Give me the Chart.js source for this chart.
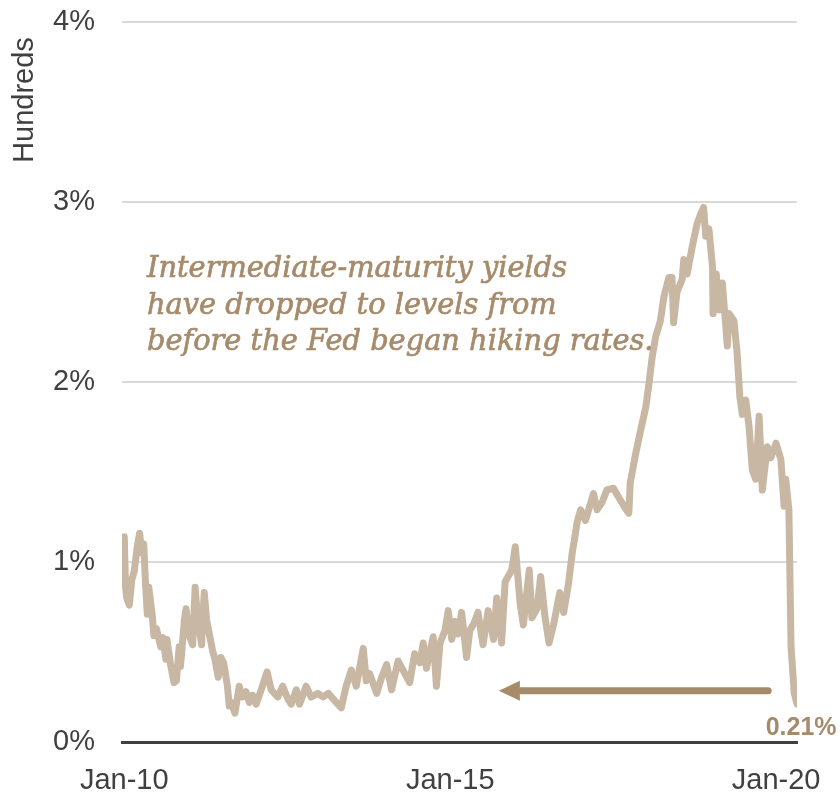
<!DOCTYPE html>
<html>
<head>
<meta charset="utf-8">
<script src="https://cdn.jsdelivr.net/npm/chart.js@4/dist/chart.umd.min.js"></script>
<style>
  body { margin: 0; background: #fff; }
  .frame { width: 840px; height: 798px; overflow: hidden; }
  .box { position: relative; width: 840px; height: 820px; }
</style>
</head>
<body>
<div class="frame"><div class="box"><canvas id="yieldChart"></canvas></div></div>
<script>
// 2-year yield (percent)
const dates = [
  '2010-01-01','2010-01-08','2010-01-15','2010-01-29','2010-02-12','2010-02-26','2010-03-14','2010-03-28',
  '2010-04-08','2010-04-20','2010-05-01','2010-05-10','2010-05-18','2010-06-07','2010-06-16','2010-06-30',
  '2010-07-24','2010-08-05','2010-08-22','2010-08-28','2010-09-19','2010-10-07','2010-10-20','2010-11-05',
  '2010-11-12','2010-12-04','2010-12-13','2010-12-28','2011-01-19','2011-02-02','2011-02-12','2011-03-10',
  '2011-03-25','2011-04-07','2011-05-10','2011-05-24','2011-06-11','2011-06-26','2011-07-12','2011-08-02',
  '2011-08-12','2011-08-25','2011-09-13','2011-10-07','2011-10-26','2011-11-14','2011-12-03','2011-12-21',
  '2012-01-10','2012-02-07','2012-03-11','2012-04-03','2012-05-10','2012-06-07','2012-07-05','2012-07-24',
  '2012-08-22','2012-09-09','2012-10-16','2012-11-13','2012-12-21','2013-01-19','2013-02-17','2013-03-25',
  '2013-05-01','2013-05-28','2013-06-26','2013-07-24','2013-09-01','2013-09-18','2013-10-07','2013-11-15',
  '2013-12-13','2014-01-10','2014-02-07','2014-03-15','2014-04-22','2014-05-19','2014-06-16','2014-07-15',
  '2014-08-03','2014-08-21','2014-09-28','2014-10-16','2014-11-05','2014-12-03','2014-12-21','2015-01-10',
  '2015-01-28','2015-02-15','2015-03-06','2015-04-03','2015-04-21','2015-05-15','2015-06-06','2015-07-04',
  '2015-08-02','2015-09-01','2015-09-19','2015-10-16','2015-11-05','2015-12-12','2016-01-01','2016-01-28',
  '2016-02-15','2016-03-19','2016-04-03','2016-05-01','2016-05-22','2016-06-16','2016-07-08','2016-08-02',
  '2016-09-06','2016-09-28','2016-10-25','2016-11-15','2016-12-03','2016-12-12','2017-01-01','2017-01-28',
  '2017-03-14','2017-04-03','2017-05-01','2017-05-28','2017-07-04','2017-08-02','2017-09-01','2017-09-28',
  '2017-10-06','2017-11-05','2017-12-03','2018-01-01','2018-01-19','2018-02-06','2018-02-25','2018-03-24',
  '2018-04-12','2018-05-10','2018-05-28','2018-06-06','2018-06-25','2018-07-24','2018-08-02','2018-08-21',
  '2018-09-18','2018-10-16','2018-11-03','2018-11-21','2018-12-03','2018-12-21','2019-01-10','2019-01-13',
  '2019-01-31','2019-02-16','2019-03-06','2019-04-03','2019-04-12','2019-05-10','2019-05-28','2019-06-12',
  '2019-06-26','2019-07-15','2019-08-03','2019-08-21','2019-09-09','2019-09-28','2019-10-16','2019-11-13',
  '2019-12-03','2020-01-01','2020-01-28','2020-02-15','2020-02-24','2020-03-13','2020-03-25','2020-04-12',
  '2020-04-28'
]
const yields = [
  1.14,0.86,0.80,0.76,0.90,0.95,1.08,1.16,
  1.05,1.10,0.86,0.71,0.86,0.70,0.59,0.63,
  0.53,0.58,0.46,0.57,0.42,0.33,0.34,0.53,
  0.42,0.68,0.74,0.60,0.54,0.86,0.73,0.54,
  0.83,0.68,0.51,0.46,0.36,0.47,0.44,0.31,
  0.20,0.22,0.16,0.31,0.25,0.28,0.22,0.26,
  0.21,0.29,0.39,0.29,0.25,0.31,0.24,0.21,
  0.29,0.21,0.31,0.25,0.27,0.25,0.27,0.23,
  0.19,0.31,0.40,0.31,0.52,0.34,0.38,0.27,
  0.36,0.43,0.29,0.45,0.38,0.33,0.49,0.44,
  0.55,0.41,0.585,0.31,0.55,0.62,0.73,0.57,
  0.67,0.60,0.72,0.47,0.62,0.66,0.72,0.54,
  0.73,0.57,0.80,0.55,0.89,0.955,1.085,0.77,
  0.65,0.955,0.69,0.74,0.92,0.69,0.55,0.65,
  0.83,0.72,0.88,1.05,1.16,1.22,1.29,1.23,
  1.38,1.29,1.33,1.40,1.41,1.36,1.31,1.27,
  1.44,1.60,1.73,1.86,1.99,2.14,2.25,2.34,
  2.47,2.58,2.58,2.33,2.50,2.57,2.68,2.60,
  2.75,2.88,2.93,2.97,2.81,2.85,2.64,2.38,
  2.60,2.40,2.55,2.20,2.38,2.34,2.16,1.92,
  1.82,1.90,1.75,1.51,1.46,1.81,1.40,1.64,
  1.58,1.66,1.57,1.31,1.46,1.29,0.53,0.27,
  0.21
]
const tickYears = [0, 5, 10]
const tickLabels = ['Jan-10', 'Jan-15', 'Jan-20']
const noteLines = [
  'Intermediate-maturity yields',
  'have dropped to levels from',
  'before the Fed began hiking rates.'
]
const arrowFrom = { date: '2019-11-18', value: 0.285 }
const arrowTo = { date: '2015-10-01', value: 0.285 }

const lineColor = '#c8b8a3'
const accent = '#a68b6b'

function toYears(s) {
  const p = s.split('-').map(Number)
  return (Date.UTC(p[0], p[1] - 1, p[2]) - Date.UTC(2010, 0, 1)) / (365.25 * 86400000)
}

const points = dates.map((d, i) => ({ x: toYears(d), y: yields[i] }))

const extras = {
  id: 'extras',
  afterDatasetsDraw(chart) {
    const ctx = chart.ctx
    const xs = chart.scales.x, ys = chart.scales.y
    ctx.save()

    // display-unit label
    ctx.save()
    ctx.translate(25, 100)
    ctx.rotate(-Math.PI / 2)
    ctx.font = '29px "Liberation Sans", Arial, sans-serif'
    ctx.fillStyle = '#404040'
    ctx.textAlign = 'center'
    ctx.textBaseline = 'middle'
    ctx.fillText('Hundreds', 0, 0)
    ctx.restore()

    // note text: tall serif italic squeezed to the reference width
    ctx.save()
    ctx.fillStyle = accent
    ctx.strokeStyle = accent
    ctx.lineWidth = 0.7
    ctx.font = 'italic 30px "DejaVu Serif", serif'
    const sx = 420 / ctx.measureText(noteLines[0]).width
    ctx.translate(147, 0)
    ctx.scale(sx, 1)
    ctx.textAlign = 'left'
    ctx.textBaseline = 'alphabetic'
    noteLines.forEach((t, i) => {
      ctx.fillText(t, 0, 277 + i * 36.5)
      ctx.strokeText(t, 0, 277 + i * 36.5)
    })
    ctx.restore()

    // arrow
    const x1 = xs.getPixelForValue(toYears(arrowFrom.date))
    const x2 = xs.getPixelForValue(toYears(arrowTo.date))
    const ay = ys.getPixelForValue(arrowFrom.value)
    ctx.fillStyle = accent
    ctx.strokeStyle = accent
    ctx.lineWidth = 7
    ctx.lineCap = 'round'
    ctx.beginPath()
    ctx.moveTo(x1, ay)
    ctx.lineTo(x2 + 14, ay)
    ctx.stroke()
    ctx.beginPath()
    ctx.moveTo(x2, ay)
    ctx.lineTo(x2 + 21, ay - 10)
    ctx.lineTo(x2 + 21, ay + 10)
    ctx.closePath()
    ctx.fill()

    // last value label
    const last = points[points.length - 1]
    const lx = xs.getPixelForValue(last.x)
    const ly = ys.getPixelForValue(last.y)
    ctx.font = 'bold 25px "Liberation Sans", Arial, sans-serif'
    ctx.textAlign = 'center'
    ctx.textBaseline = 'alphabetic'
    ctx.fillText(last.y.toFixed(2) + '%', lx + 4, ly + 31)
    ctx.restore()
  }
}

new Chart(document.getElementById('yieldChart'), {
  type: 'line',
  data: {
    datasets: [{
      data: points,
      borderColor: lineColor,
      borderWidth: 7,
      borderJoinStyle: 'round',
      borderCapStyle: 'round',
      pointRadius: 0,
      tension: 0
    }]
  },
  options: {
    responsive: true,
    maintainAspectRatio: false,
    animation: false,
    layout: { padding: { top: 22, right: 43, left: 0, bottom: 0 } },
    plugins: { legend: { display: false }, tooltip: { enabled: false } },
    scales: {
      x: {
        type: 'linear',
        min: -0.035,
        max: 10.32,
        afterBuildTicks: s => { s.ticks = tickYears.map(v => ({ value: v })) },
        afterFit: s => { s.height = 78; s.paddingLeft = 0; s.paddingRight = 0 },
        grid: { display: false, drawTicks: false },
        border: { display: true, color: '#404040', width: 3 },
        ticks: {
          padding: 22,
          maxRotation: 0,
          autoSkip: false,
          color: '#404040',
          font: { family: '"Liberation Sans", Arial, sans-serif', size: 29 },
          callback: (v, i) => tickLabels[i]
        }
      },
      y: {
        min: 0,
        max: 4,
        afterFit: s => { s.width = 122; s.paddingTop = 0; s.paddingBottom = 0 },
        grid: {
          drawTicks: false,
          color: c => c.tick.value === 0 ? 'rgba(0,0,0,0)' : '#d9d9d9',
          lineWidth: 2
        },
        border: { display: false },
        ticks: {
          stepSize: 1,
          padding: 27,
          color: '#404040',
          font: { family: '"Liberation Sans", Arial, sans-serif', size: 29 },
          callback: v => v + '%'
        }
      }
    }
  },
  plugins: [extras]
})
</script>
</body>
</html>
